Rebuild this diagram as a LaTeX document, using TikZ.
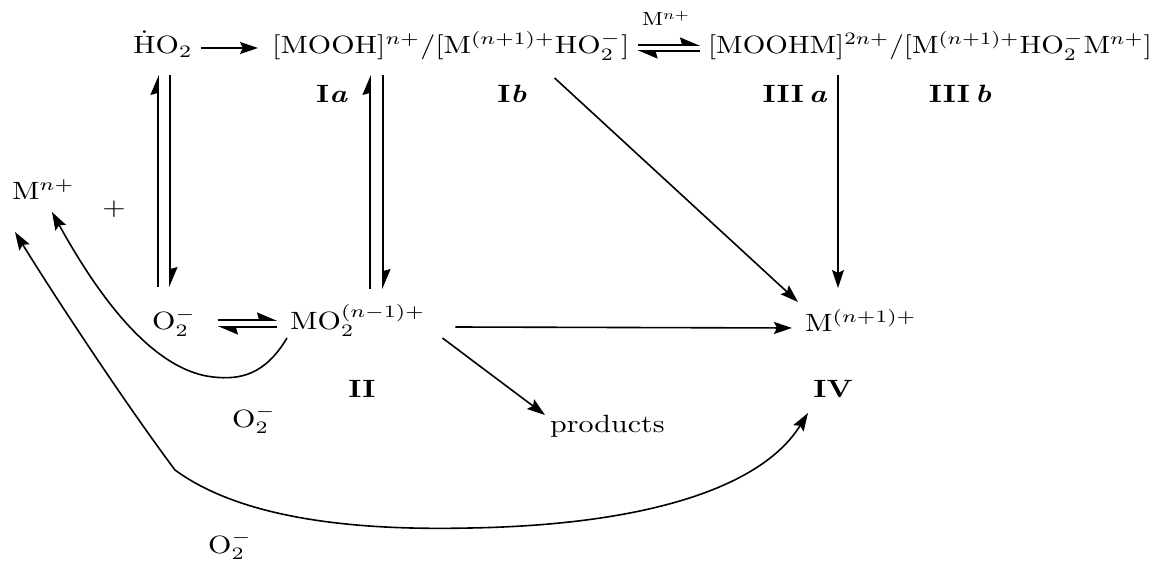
\documentclass[tikz,border=0pt]{standalone}
\usepackage{amsmath}
\usepackage{graphicx}
\usetikzlibrary{arrows.meta}
\newcommand{\wt}[1]{\scalebox{3.0}[2.5]{#1}}
\newcommand{\wn}[1]{\scalebox{2.9}[2.5]{#1}}
\newcommand{\ws}[1]{\scalebox{2.3}[1.9]{#1}}
\tikzset{
  txt/.style={inner sep=0pt},
  ln/.style={line width=1.6pt},
  arr/.style={ln, -{Stealth[length=18pt,width=12pt,inset=3pt]}},
  barr/.style={ln, {Stealth[length=18pt,width=12pt,inset=3pt]}-{Stealth[length=18pt,width=12pt,inset=3pt]}},
  harp/.style={ln, -{Stealth[harpoon,length=18pt,width=15pt,inset=2pt]}}
}
\begin{document}
\begin{tikzpicture}[x=1pt,y=-1pt]
\useasboundingbox[fill=white] (0,0) rectangle (1157,561);
% species
\node[txt,anchor=base west] (HO2) at (133,54) {\wt{$\dot{\mathrm{H}}\mathrm{O}_2$}};
\node[txt,anchor=base west] (Iab) at (272,54) {\wt{$[\mathrm{MOOH}]^{n+}/[\mathrm{M}^{(n+1)+}\mathrm{HO}_2^-]$}};
\node[txt,anchor=base west] (III) at (708,54) {\wn{$[\mathrm{MOOHM}]^{2n+}/[\mathrm{M}^{(n+1)+}\mathrm{HO}_2^-\mathrm{M}^{n+}]$}};
\node[txt,anchor=base] (Mlab) at (666,26) {\ws{$\mathrm{M}^{n+}$}};
\node[txt,anchor=base] (Ia) at (332,103) {\wt{\textbf{I\textit{a}}}};
\node[txt,anchor=base] (Ib) at (512,103) {\wt{\textbf{I\textit{b}}}};
\node[txt,anchor=base] (IIIa) at (795,103) {\wt{\textbf{III\,\textit{a}}}};
\node[txt,anchor=base] (IIIb) at (960,103) {\wt{\textbf{III\,\textit{b}}}};
\node[txt,anchor=base west] (Mn) at (12,200) {\wt{$\mathrm{M}^{n+}$}};
\node[txt] (plus) at (114,209) {\wt{$+$}};
\node[txt,anchor=base west] (O2) at (152,330) {\wt{$\mathrm{O}_2^-$}};
\node[txt,anchor=base west] (MO2) at (290,330) {\wt{$\mathrm{MO}_2^{(n-1)+}$}};
\node[txt,anchor=base] (II) at (362,397) {\wt{\textbf{II}}};
\node[txt,anchor=base west] (O2m) at (232,427) {\wt{$\mathrm{O}_2^-$}};
\node[txt,anchor=base west] (M1) at (805,332) {\wt{$\mathrm{M}^{(n+1)+}$}};
\node[txt,anchor=base] (IV) at (833,397) {\wt{\textbf{IV}}};
\node[txt,anchor=base west] (prod) at (550,432) {\wt{products}};
\node[txt,anchor=base west] (O2b) at (208,553) {\wt{$\mathrm{O}_2^-$}};
% top row
\draw[arr] ([shift={(8,-6)}]HO2.base east) -- ([shift={(-14,-6)}]Iab.base west);
\draw[harp] ([shift={(8,-9)}]Iab.base east) -- ([shift={(-8,-9)}]III.base west);
\draw[harp] ([shift={(-8,-3)}]III.base west) -- ([shift={(8,-3)}]Iab.base east);
% left vertical pair
\draw[harp] ([shift={(6,-43)}]O2.base west) -- ([shift={(25,21)}]HO2.base west);
\draw[harp] ([shift={(37,21)}]HO2.base west) -- ([shift={(18,-43)}]O2.base west);
% middle vertical pair
\draw[harp] ([shift={(80,-41)}]MO2.base west) -- ([shift={(98,21)}]Iab.base west);
\draw[harp] ([shift={(111,21)}]Iab.base west) -- ([shift={(93,-41)}]MO2.base west);
% O2- <=> MO2
\draw[harp] ([shift={(22,-10)}]O2.base east) -- ([shift={(-13,-10)}]MO2.base west);
\draw[harp] ([shift={(-13,-3)}]MO2.base west) -- ([shift={(22,-3)}]O2.base east);
% to M(n+1)+
\draw[arr] ([shift={(30,-3)}]MO2.base east) -- ([shift={(-13,-4)}]M1.base west);
\draw[arr] ([shift={(17,8)}]MO2.base east) -- ([shift={(-5,-17)}]prod.base west);
\draw[arr] ([shift={(-75,24)}]Iab.base east) -- ([shift={(-7,-30)}]M1.base west);
\draw[arr] ([shift={(130,21)}]III.base west) -- ([shift={(33,-44)}]M1.base west);
% curved arrows
\draw[arr] ([shift={(-3,8)}]MO2.base west) .. controls (265,375) and (240,380) .. (213,377)
  .. controls (150,370) and (95,290) .. ([shift={(40,12)}]Mn.base west);
\draw[barr] ([shift={(3,32)}]Mn.base west) .. controls (60,305) and (130,410) .. (175,470)
  .. controls (250,525) and (380,530) .. (470,528)
  .. controls (640,525) and (760,490) .. ([shift={(-25,16)}]IV.base);
\end{tikzpicture}
\end{document}
